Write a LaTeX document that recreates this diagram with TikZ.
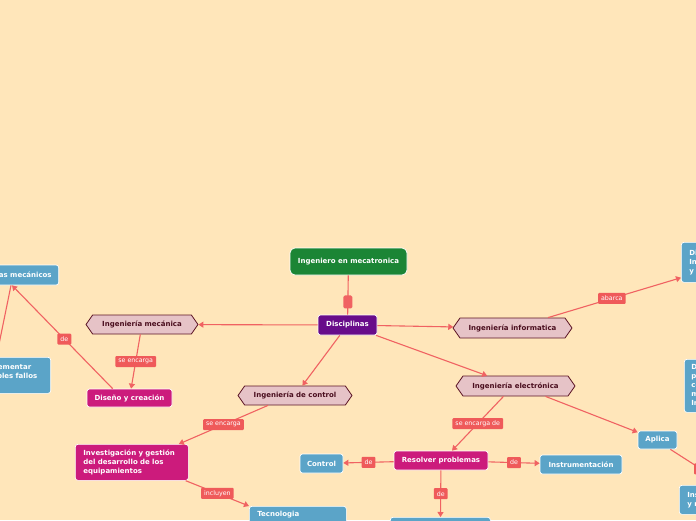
\documentclass[tikz,border=0pt]{standalone}
\usepackage{fontspec}
\setmainfont{DejaVu Sans}
\usetikzlibrary{shapes.symbols,arrows.meta}
\definecolor{bgC}{HTML}{FFE6BA}
\definecolor{lineC}{HTML}{F06262}
\definecolor{lblC}{HTML}{EF5A5A}
\definecolor{blueC}{HTML}{5BA4C8}
\definecolor{magC}{HTML}{CC1B7C}
\definecolor{purpC}{HTML}{680C8A}
\definecolor{greenC}{HTML}{1B8535}
\definecolor{hexF}{HTML}{E6C3C7}
\definecolor{hexD}{HTML}{5C1525}
\definecolor{hexT}{HTML}{4A0E1E}
\begin{document}
\begin{tikzpicture}[x=1pt,y=-1pt,
  box/.style={font=\fontsize{7}{9}\selectfont\bfseries, text=white, rounded corners=2.5pt, inner sep=0pt, draw=white, line width=0.7pt},
  bluebox/.style={box, fill=blueC},
  magbox/.style={box, fill=magC},
  hexbox/.style={signal, signal to=west and east, signal pointer angle=110, fill=hexF, draw=hexD, line width=0.8pt, text=hexT, font=\fontsize{7}{9}\selectfont\bfseries, inner sep=0pt},
  lbl/.style={fill=lblC, text=white, font=\fontsize{6.3}{7}\selectfont, inner xsep=3pt, inner ysep=0pt, minimum height=11pt, rounded corners=1pt},
  conn/.style={draw=lineC, line width=1.1pt, -{Triangle[length=5pt,width=6pt]}},
  plain/.style={draw=lineC, line width=1.1pt}]
\useasboundingbox (0,0) rectangle (696,520);
\clip (0,0) rectangle (696,520);
\fill[bgC] (0,0) rectangle (696,520);

% nodes
\node[box, fill=greenC, minimum width=117, minimum height=27, rounded corners=5pt] (root) at (348.5,261.5) {Ingeniero en mecatronica};
\node[box, fill=purpC, minimum width=59, minimum height=20] (dis) at (347.5,325) {Disciplinas};
\node[hexbox, minimum width=112, minimum height=19] (mec) at (142,324.5) {Ingeniería mecánica};
\node[hexbox, minimum width=119, minimum height=20] (inf) at (512.5,328) {Ingeniería informatica};
\node[hexbox, minimum width=114, minimum height=19] (ctl) at (295,395.5) {Ingeniería de control};
\node[hexbox, minimum width=119, minimum height=20] (ele) at (515.5,386) {Ingeniería electrónica};
\node[magbox, minimum width=85, minimum height=18] (dis2) at (129.5,398) {Diseño y creación};
\node[magbox, anchor=north west, minimum height=36, text width=97, align=left, inner xsep=8pt] (inv) at (75,444) {Investigación y gestión\\del desarrollo de los\\equipamientos};
\node[bluebox, anchor=north west, text width=81, inner xsep=8pt, inner ysep=5pt, text depth=28pt, align=left] (tec) at (249,506) {Tecnologia};
\node[magbox, minimum width=94, minimum height=19] (res) at (441,460.5) {Resolver problemas};
\node[bluebox, minimum width=43, minimum height=19] (ctr) at (321.5,463.5) {Control};
\node[bluebox, minimum width=82, minimum height=19] (ins) at (581,464.5) {Instrumentación};
\node[bluebox, minimum width=39, minimum height=18] (apl) at (657.5,440) {Aplica};
\node[bluebox, anchor=north west, minimum width=100, minimum height=30] (bot) at (390,517) {};
\node[bluebox, anchor=east, minimum height=20, inner xsep=7pt] (smec) at (59,275) {Sistemas mecánicos};
\node[bluebox, anchor=north east, minimum height=36, text width=62, inner xsep=8pt, align=left] (impl) at (51,357) {Implementar\\posibles fallos\\~};
\node[bluebox, anchor=north west, text width=100, inner xsep=8pt, minimum height=40, align=left] (di) at (681,242) {Diseño de software,\\Inteligencia artificial\\y redes};
\node[bluebox, anchor=north west, text width=90, inner xsep=7pt, minimum height=53, align=left] (dp) at (684,359) {Diseño de\\procesos\\computacionales\\mediante\\Ingeniería};
\node[bluebox, anchor=north west, text width=90, inner xsep=8pt, minimum height=29, align=left] (inr) at (679,485) {Instrumentación\\y robótica};

% connectors
\draw[plain] (root) -- node[fill=lineC, minimum width=9pt, minimum height=13pt, inner sep=0pt, rounded corners=1.5pt, pos=0.675] (sq) {} (dis);
\draw[conn] (dis) -- (mec);
\draw[conn] (dis) -- (inf);
\draw[conn] (dis) -- (ctl);
\draw[conn] (dis) -- (ele);
\draw[conn] (mec) -- node[lbl]{se encarga} (dis2);
\draw[conn] ([xshift=26pt]dis2.north west) -- node[lbl, pos=0.48]{de} ([xshift=-47pt]smec.south east);
\draw[plain] ([xshift=-54.6pt]impl.north east) -- ([xshift=-48pt]smec.south east);
\draw[conn] ([xshift=35.5pt]inf.north) -- node[lbl, pos=0.48]{abarca} ([yshift=5pt]di.south west);
\draw[conn] ([xshift=-27pt]ctl.south) -- node[lbl]{se encarga} ([xshift=47pt]inv.north);
\draw[conn] ([xshift=-3pt]inv.south east) -- node[lbl]{incluyen} (tec.north west);
\draw[conn] ([xshift=-12pt]ele.south) -- node[lbl]{se encarga de} ([xshift=11pt]res.north);
\draw[conn] ([xshift=30pt]ele.south) -- (apl);
\draw[conn] (res) -- node[lbl]{de} (ctr);
\draw[conn] (res) -- node[lbl]{de} (ins);
\draw[conn] (res) -- node[lbl]{de} (bot);
\draw[conn] ([xshift=-7pt]apl.south east) -- node[lbl, pos=0.55]{de} ([xshift=47pt]inr.north west);
\end{tikzpicture}
\end{document}
